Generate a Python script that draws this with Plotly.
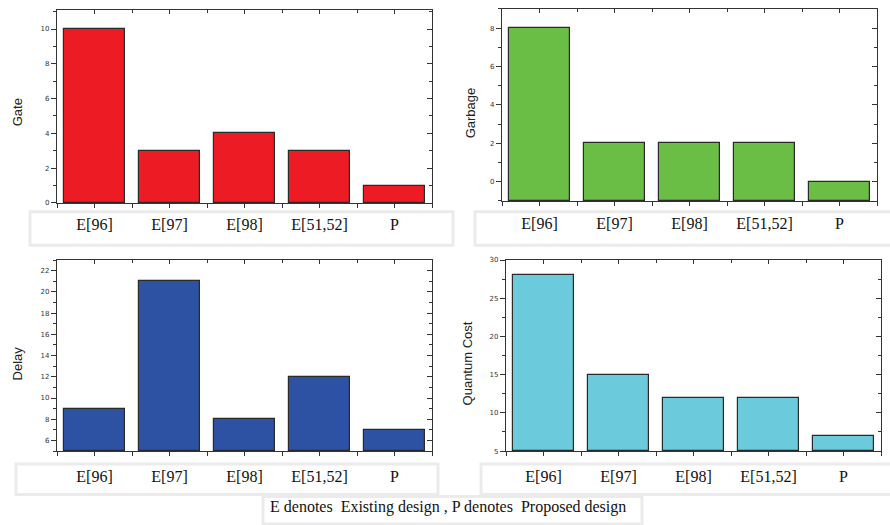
import plotly.graph_objects as go

# Categories and metric values for the four comparison charts
categories = ["E[96]", "E[97]", "E[98]", "E[51,52]", "P"]
gate = [10, 3, 4, 3, 1]
garbage = [8, 2, 2, 2, 0]
delay = [9, 21, 8, 12, 7]
quantum_cost = [28, 15, 12, 12, 7]

note_text = "E denotes  Existing design , P denotes  Proposed design"

W, H = 890, 525


def px_x(v):
    return v / W


def px_y(v):
    return 1 - v / H


panels = [
    dict(name="Gate", values=gate, color="#ED1C24",
         xdom=(57, 432), ydom=(6, 202), yrange=(0, 11.1),
         dtick=2, minor=1, tick0=0, standoff=3),
    dict(name="Garbage", values=garbage, color="#6ABD45",
         xdom=(502, 877), ydom=(5, 200), yrange=(-1, 9),
         dtick=2, minor=1, tick0=0, standoff=4),
    dict(name="Delay", values=delay, color="#2E52A3",
         xdom=(57, 432), ydom=(260, 454), yrange=(5, 23),
         dtick=2, minor=1, tick0=0, standoff=7),
    dict(name="Quantum Cost", values=quantum_cost, color="#6BCBDC",
         xdom=(506, 881), ydom=(260, 454), yrange=(5, 30),
         dtick=5, minor=2.5, tick0=0, standoff=7),
]

fig = go.Figure()
layout = {}
positions = list(range(len(categories)))
axis_color = "#333333"
serif = "Times New Roman, Liberation Serif, Tinos, Times, serif"
tick_font = dict(family="DejaVu Sans, Verdana, sans-serif", size=7, color="#333333")
cat_font = dict(family=serif, size=16, color="#111111")

for i, p in enumerate(panels, start=1):
    floor = p["yrange"][0]
    xs = "" if i == 1 else str(i)
    j = str(i + 4)
    fig.add_trace(go.Bar(
        x=positions,
        y=[v - floor for v in p["values"]],
        base=floor,
        customdata=p["values"],
        hovertemplate="%{customdata}<extra></extra>",
        width=0.81,
        marker=dict(color=p["color"], line=dict(color="#2a2a2a", width=1.2)),
        xaxis="x" + xs, yaxis="y" + xs,
        showlegend=False,
    ))
    # empty trace so the top/right frame axes get drawn
    fig.add_trace(go.Scatter(x=[], y=[], xaxis="x" + j, yaxis="y" + j,
                             showlegend=False, hoverinfo="skip"))
    xdom = (px_x(p["xdom"][0]), px_x(p["xdom"][1]))
    ydom = (px_y(p["ydom"][1]), px_y(p["ydom"][0]))
    layout["xaxis" + xs] = dict(
        domain=xdom, anchor="y" + xs, range=[-0.5, 4.5],
        tickmode="array", tickvals=positions, ticktext=categories,
        ticks="outside", ticklen=4, tickwidth=1, tickcolor=axis_color,
        showline=True, linecolor=axis_color, linewidth=1.2,
        showgrid=False, zeroline=False, tickfont=cat_font,
        ticklabelstandoff=p["standoff"],
        minor=dict(tick0=0.5, dtick=1, ticks="outside", ticklen=4,
                   tickcolor=axis_color, showgrid=False),
        fixedrange=True,
    )
    layout["yaxis" + xs] = dict(
        domain=ydom, anchor="x" + xs, range=list(p["yrange"]),
        tick0=p["tick0"], dtick=p["dtick"],
        ticks="outside", ticklen=5, tickwidth=1, tickcolor=axis_color,
        showline=True, linecolor=axis_color, linewidth=1.2,
        showgrid=False, zeroline=False, tickfont=tick_font,
        minor=dict(tick0=0, dtick=p["minor"], ticks="outside", ticklen=3,
                   tickcolor=axis_color, showgrid=False),
        fixedrange=True,
    )
    # frame: top and right axes with inward ticks
    layout["xaxis" + j] = dict(
        overlaying="x" + xs, anchor="y" + j, side="top", range=[-0.5, 4.5],
        tickmode="array", tickvals=positions, showticklabels=False,
        ticks="inside", ticklen=4, tickcolor=axis_color,
        showline=True, linecolor=axis_color, linewidth=1.2,
        showgrid=False, zeroline=False,
        minor=dict(tick0=0.5, dtick=1, ticks="inside", ticklen=3,
                   tickcolor=axis_color, showgrid=False),
        fixedrange=True,
    )
    layout["yaxis" + j] = dict(
        overlaying="y" + xs, anchor="x" + j, side="right", range=list(p["yrange"]),
        tick0=p["tick0"], dtick=p["dtick"], showticklabels=False,
        ticks="inside", ticklen=5, tickcolor=axis_color,
        showline=True, linecolor=axis_color, linewidth=1.2,
        showgrid=False, zeroline=False,
        minor=dict(tick0=0, dtick=p["minor"], ticks="inside", ticklen=3,
                   tickcolor=axis_color, showgrid=False),
        fixedrange=True,
    )

# light boxes behind the category labels and the note
box_line = dict(color="#EBEBEB", width=3)
label_boxes = [(30, 211, 453, 245), (475, 211, 893, 245),
               (16, 467, 438, 498), (481, 467, 893, 498),
               (263, 500, 642, 528)]
shapes = []
for x0, y0, x1, y1 in label_boxes:
    shapes.append(dict(type="rect", xref="paper", yref="paper",
                       x0=px_x(x0), x1=px_x(x1), y0=px_y(y1), y1=px_y(y0),
                       line=box_line, fillcolor="rgba(0,0,0,0)", layer="below"))

title_font = dict(family="Liberation Sans Narrow, Arial Narrow, Liberation Sans, Arial, sans-serif",
                  size=13, color="#222222")
title_pos = [(17, 110), (470, 110), (17, 365), (467, 365)]
annotations = []
for p, (tx, ty) in zip(panels, title_pos):
    annotations.append(dict(text=p["name"], xref="paper", yref="paper",
                            x=px_x(tx), y=px_y(ty), showarrow=False,
                            textangle=-90, font=title_font,
                            xanchor="center", yanchor="middle"))
annotations.append(dict(text=note_text, xref="paper", yref="paper",
                        x=px_x(448), y=px_y(511), showarrow=False,
                        font=dict(family=serif, size=16, color="#111111"),
                        xanchor="center", yanchor="middle"))

fig.update_layout(
    width=W, height=H,
    margin=dict(l=0, r=0, t=0, b=0),
    paper_bgcolor="white", plot_bgcolor="white",
    shapes=shapes, annotations=annotations,
    bargap=0,
    **layout,
)

fig.write_html("out.html", config={"displayModeBar": False})
